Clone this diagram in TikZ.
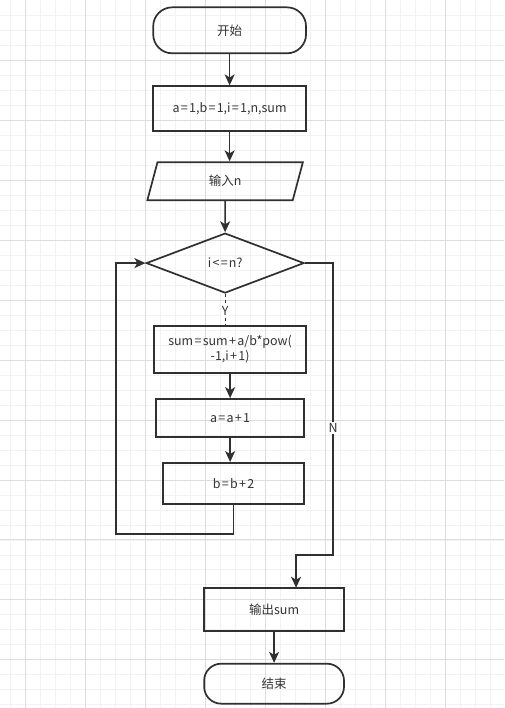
\documentclass[tikz,border=0pt]{standalone}
\usepackage{fontspec}
\setmainfont{Noto Sans CJK SC}
\usetikzlibrary{arrows.meta,shapes.geometric}
\definecolor{lc}{HTML}{303030}
\definecolor{tc}{HTML}{333333}
\definecolor{gminor}{HTML}{F2F2F2}
\definecolor{gmajor}{HTML}{DDDDDD}
\newcommand{\opsp}[1]{\hspace{1.3pt}#1\hspace{1.3pt}}
\begin{document}
\begin{tikzpicture}[x=1pt,y=-1pt,
  every node/.style={font=\fontsize{12.5}{15}\selectfont, text=tc},
  shp/.style={draw=lc, line width=1.7pt, inner sep=0pt, align=center},
  box/.style={shp, rectangle},
  term/.style={shp, rectangle, rounded corners=19pt},
  io/.style={shp, trapezium, trapezium left angle=78, trapezium right angle=102, trapezium stretches=true},
  dec/.style={shp, diamond},
  arr/.style={draw=lc, line width=1.7pt, -{Stealth[length=11pt,width=10pt,inset=3pt]}},
  ln/.style={draw=lc, line width=1.7pt},
  lbl/.style={fill=white, inner sep=1pt}
]
\fill[white] (0,0) rectangle (504,708);
\foreach \x in {10,25,...,500} \draw[gminor, line width=0.6pt] (\x,0) -- (\x,708);
\foreach \y in {15,30,...,705} \draw[gminor, line width=0.6pt] (0,\y) -- (504,\y);
\foreach \x in {25,85,...,500} \draw[gmajor, line width=0.7pt] (\x,0) -- (\x,708);
\foreach \y in {60,120,...,705} \draw[gmajor, line width=0.7pt] (0,\y) -- (504,\y);
\useasboundingbox (0,0) rectangle (504,708);

\node[term, minimum width=153pt, minimum height=46pt] (start) at (229.5,30) {开始};
\node[box, minimum width=153pt, minimum height=45pt] (init) at (229.5,108.5) {a\opsp{=}1,b\opsp{=}1,i\opsp{=}1,n,sum};
\node[io, minimum width=156pt, minimum height=38pt] (inp) at (225,181) {输入n};
\node[dec, minimum width=158pt, minimum height=60pt] (dia) at (225,263) {i\opsp{<}\hspace{-1.3pt}\opsp{=}n?};
\node[box, minimum width=152pt, minimum height=47pt] (sum) at (230,349.5) {sum\opsp{=}sum\opsp{+}a/b*pow(\\-1,i\opsp{+}1)};
\node[box, minimum width=148pt, minimum height=38pt] (inca) at (230,418) {a\opsp{=}a\opsp{+}1};
\node[box, minimum width=141pt, minimum height=41pt] (incb) at (233.5,483.5) {b\opsp{=}b\opsp{+}2};
\node[box, minimum width=140pt, minimum height=43pt] (out) at (274,609.5) {输出sum};
\node[term, minimum width=140pt, minimum height=40pt, rounded corners=17pt] (stop) at (274,684) {结束};

\coordinate (loopc) at (116,534);
\coordinate (nc) at (333,555);
\coordinate (outin) at (296,588);

\draw[arr] (start) -- (init);
\draw[arr] (init.south) -- (init.south |- inp.north);
\draw[arr] (inp.south) -- (dia.north);
\draw[ln, line width=1pt, dash pattern=on 3pt off 3pt] (dia.south) -- (dia.south |- sum.north)
  node[lbl, pos=0.55] {Y};
\draw[arr] (sum.south) -- (sum.south |- inca.north);
\draw[arr] (inca.south) -- (inca.south |- incb.north);
\draw[arr] (incb.south) |- (loopc) |- (dia.west);
\draw[arr] (dia.east) -| (nc) -| (outin);
\node[lbl] (nlab) at (333,428) {N};
\draw[arr] (out.south) -- (out.south |- stop.north);
\end{tikzpicture}
\end{document}
